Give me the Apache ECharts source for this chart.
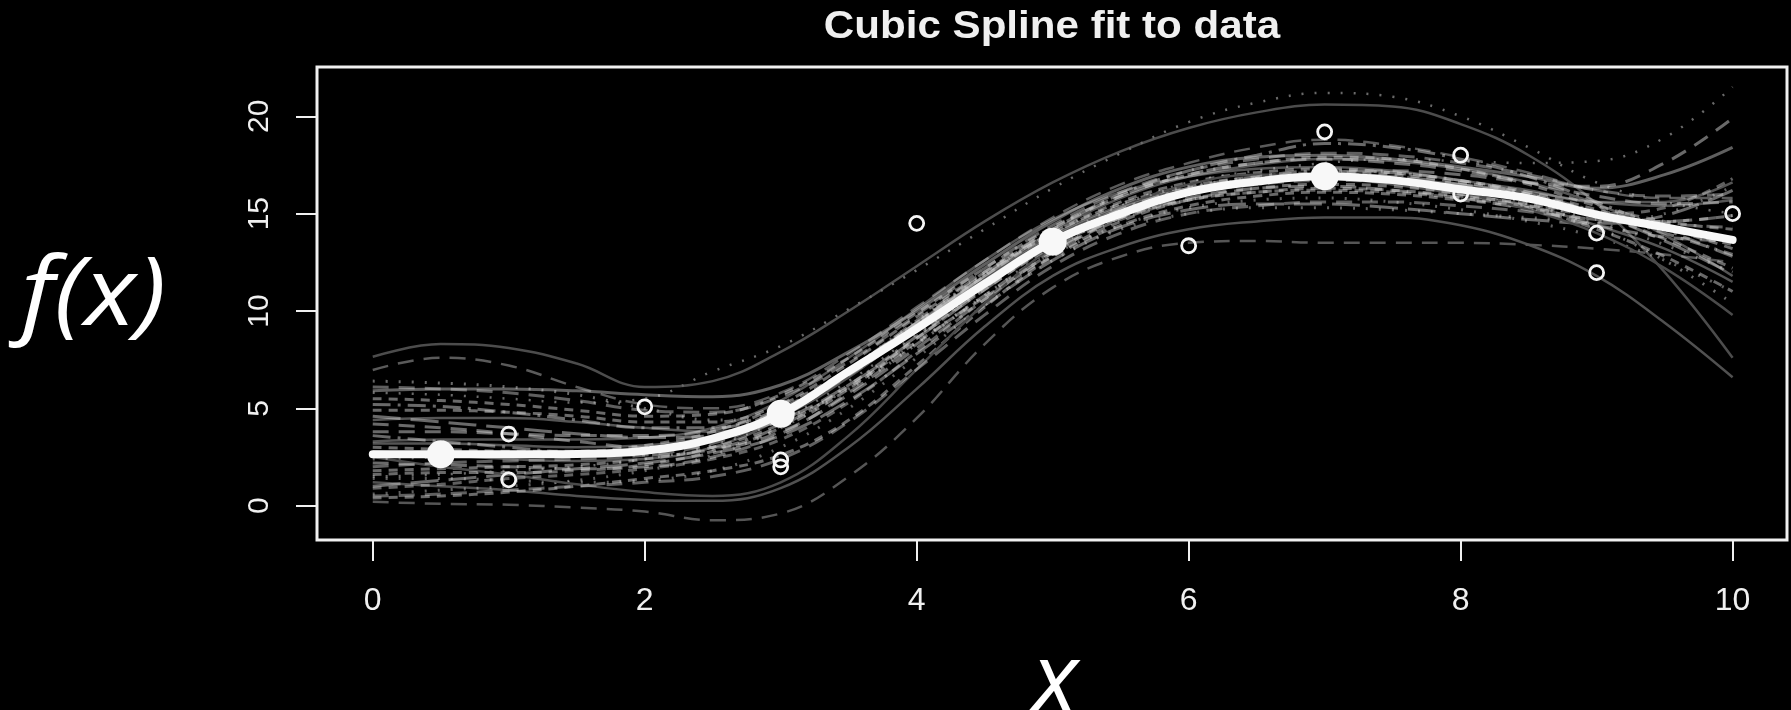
<!DOCTYPE html>
<html>
<head>
<meta charset="utf-8">
<script src="https://cdn.jsdelivr.net/npm/echarts@6/dist/echarts.min.js"></script>
<style>
  html, body { margin: 0; padding: 0; background: #000; }
  #spline { width: 1791px; height: 710px; }
</style>
</head>
<body>
<div id="spline"></div>
<script>
// tick labels
var xTicks = [0, 2, 4, 6, 8, 10];
var yTicks = [0, 5, 10, 15, 20];

// x positions the fitted curves were read at
var gridX = [0, 0.5, 1, 1.5, 2, 2.5, 3, 3.5, 4, 4.5, 5, 5.5, 6, 6.5, 7, 7.5, 8, 8.5, 9, 9.5, 10];

// observed data (open circles)
var obsX = [1, 1, 2, 3, 3, 4, 6, 7, 8, 8, 9, 9, 10];
var obsY = [3.68, 1.33, 5.08, 2.35, 2.0, 14.5, 13.35, 19.2, 18.0, 16.0, 14.0, 11.97, 15.0];

// knots (filled dots) and the fitted spline
var knotX = [0.5, 3, 5, 7];
var knotY = [2.64, 4.72, 13.56, 16.92];
var fitMain = [2.64, 2.64, 2.64, 2.66, 2.82, 3.45, 4.72, 6.9, 9.1, 11.4, 13.56, 15.0, 16.1, 16.65, 16.92, 16.72, 16.25, 15.78, 14.95, 14.3, 13.65];

// resampled fits (grey ensemble)
var bootA = [7.65, 8.3, 8.1, 7.3, 6.1, 6.4, 7.9, 10.0, 12.3, 14.6, 16.6, 18.2, 19.4, 20.2, 20.6, 20.5, 19.6, 18.0, 15.5, 12.0, 7.6];
var bootB = [5.8, 5.7, 5.5, 5.3, 5.5, 6.9, 8.2, 10.1, 12.1, 14.2, 16.3, 18.1, 19.7, 20.7, 21.2, 21.0, 20.0, 18.4, 16.6, 15.6, 15.0];
var bootC = [1.5, 1.6, 1.8, 2.0, 2.4, 3.1, 4.4, 6.4, 8.8, 11.2, 13.6, 15.4, 16.6, 17.2, 17.6, 17.8, 17.7, 17.6, 17.7, 18.9, 21.5];
var bootD = [1.2, 1.0, 0.8, 0.5, 0.3, 0.25, 0.9, 3.0, 6.0, 9.2, 11.8, 13.3, 14.2, 14.6, 14.8, 14.8, 14.4, 13.4, 11.8, 9.4, 6.6];
var bootE = [0.2, 0.1, 0.05, -0.1, -0.3, -0.75, -0.4, 1.5, 4.5, 8.3, 11.2, 12.8, 13.5, 13.6, 13.5, 13.5, 13.5, 13.4, 13.2, 12.9, 12.5];
var bootF = [6.97, 7.6, 7.2, 6.1, 5.2, 5.0, 5.8, 7.8, 10.2, 12.6, 14.8, 16.5, 17.6, 18.4, 18.8, 18.5, 17.9, 17.1, 16.2, 15.8, 15.8];
var bootG = [5.9, 6.0, 6.0, 5.9, 5.7, 5.6, 6.2, 7.9, 10.0, 12.4, 14.6, 16.3, 17.4, 17.9, 18.0, 17.8, 17.4, 16.9, 16.3, 17.0, 18.4];
var bootH = [4.9, 4.9, 4.8, 4.6, 4.3, 4.3, 5.2, 7.0, 9.4, 11.8, 14.0, 15.6, 16.6, 17.1, 17.3, 17.1, 16.7, 16.1, 15.2, 14.3, 13.2];
var bootI = [3.8, 3.8, 3.7, 3.6, 3.6, 3.9, 5.0, 7.0, 9.5, 12.0, 14.2, 15.9, 17.0, 17.6, 17.8, 17.6, 17.2, 16.6, 15.9, 15.5, 15.6];
var bootJ = [1.8, 1.9, 2.0, 2.1, 2.4, 3.0, 4.2, 6.1, 8.4, 10.7, 12.8, 14.4, 15.4, 15.9, 16.1, 16.0, 15.7, 15.3, 14.7, 14.6, 14.9];
var bootK = [0.6, 0.8, 1.0, 1.3, 1.8, 2.6, 4.0, 6.0, 8.4, 10.8, 12.9, 14.4, 15.3, 15.7, 15.8, 15.6, 15.2, 14.6, 13.8, 12.6, 11.0];
var bootL = [2.8, 2.6, 2.4, 2.3, 2.4, 3.0, 4.5, 6.8, 9.3, 11.8, 13.9, 15.4, 16.3, 16.7, 16.8, 16.5, 16.0, 15.4, 14.4, 13.2, 11.5];
var bootM = [4.2, 4.0, 3.7, 3.3, 3.0, 3.0, 3.8, 5.7, 8.1, 10.6, 13.0, 14.8, 16.0, 16.7, 17.1, 17.2, 17.0, 16.6, 16.4, 17.6, 19.9];
var bootN = [1.0, 1.3, 1.6, 1.9, 2.2, 2.7, 3.6, 5.4, 7.8, 10.3, 12.6, 14.3, 15.2, 15.5, 15.5, 15.3, 15.0, 14.7, 14.5, 14.9, 16.2];
var bootO = [6.4, 6.3, 6.1, 5.7, 5.0, 4.4, 4.6, 6.0, 8.3, 10.8, 13.2, 15.0, 16.2, 16.8, 17.0, 16.8, 16.3, 15.5, 14.3, 12.6, 10.4];
var bootP = [0.4, 0.5, 0.7, 1.0, 1.4, 1.8, 2.6, 4.4, 7.2, 10.2, 12.8, 14.6, 15.7, 16.3, 16.5, 16.4, 16.0, 15.3, 14.2, 12.8, 11.0];
var bootQ = [3.3, 3.4, 3.4, 3.4, 3.5, 4.0, 5.4, 7.6, 10.1, 12.6, 14.7, 16.1, 16.9, 17.3, 17.4, 17.2, 16.7, 16.2, 15.6, 15.6, 16.6];
var bootR = [2.2, 2.1, 2.0, 1.9, 2.0, 2.5, 3.7, 5.8, 8.3, 10.8, 13.1, 14.8, 15.8, 16.3, 16.4, 16.2, 15.8, 15.2, 14.4, 13.8, 13.6];
var bootS = [5.2, 5.1, 4.8, 4.4, 4.0, 4.0, 4.9, 6.9, 9.4, 11.9, 14.2, 16.0, 17.2, 18.0, 18.6, 18.4, 17.8, 16.9, 15.6, 14.2, 12.8];
var bootT = [3.0, 2.9, 2.8, 2.8, 3.1, 3.8, 5.2, 7.3, 9.7, 12.0, 14.0, 15.5, 16.4, 16.9, 17.1, 17.0, 16.6, 16.0, 15.0, 13.7, 12.2];
var bootU = [1.4, 1.4, 1.3, 1.2, 1.3, 1.8, 3.0, 5.0, 7.6, 10.3, 12.6, 14.2, 15.0, 15.3, 15.3, 15.2, 15.0, 14.8, 14.6, 15.0, 16.4];
var bootV = [4.4, 4.5, 4.5, 4.3, 4.0, 3.8, 4.6, 6.6, 9.2, 11.8, 14.1, 15.8, 16.9, 17.5, 17.8, 17.7, 17.3, 16.6, 15.5, 13.9, 11.8];
var bootW = [2.5, 2.0, 1.6, 1.1, 0.7, 0.5, 1.2, 3.6, 7.0, 10.4, 13.3, 15.3, 16.5, 17.0, 17.0, 16.7, 16.1, 15.2, 14.0, 12.2, 9.8];
var bootX = [5.5, 5.4, 5.2, 4.9, 4.6, 4.7, 5.7, 7.6, 9.9, 12.2, 14.3, 15.9, 17.0, 17.6, 17.9, 17.8, 17.3, 16.5, 15.4, 14.6, 14.2];
var bootY = [2.0, 2.2, 2.3, 2.4, 2.6, 3.2, 4.6, 6.7, 9.0, 11.3, 13.4, 15.0, 16.0, 16.5, 16.7, 16.6, 16.2, 15.7, 15.0, 14.5, 14.3];
var bootZ = [3.6, 3.3, 3.0, 2.7, 2.6, 2.9, 4.1, 6.2, 8.7, 11.2, 13.5, 15.2, 16.3, 16.9, 17.2, 17.1, 16.7, 16.0, 15.1, 14.0, 12.9];
var bootAA = [0.9, 1.1, 1.4, 1.6, 1.9, 2.4, 3.4, 5.3, 7.9, 10.6, 13.0, 14.7, 15.7, 16.1, 16.2, 16.1, 15.8, 15.4, 15.0, 15.3, 16.8];
var bootBB = [4.6, 4.3, 4.0, 3.7, 3.5, 3.6, 4.4, 6.2, 8.6, 11.1, 13.4, 15.1, 16.2, 16.8, 17.0, 16.9, 16.5, 15.9, 15.0, 13.6, 11.9];
var bootCC = [2.4, 2.5, 2.6, 2.6, 2.8, 3.4, 4.8, 7.0, 9.5, 11.9, 14.0, 15.5, 16.4, 16.8, 17.0, 16.8, 16.3, 15.6, 14.6, 13.4, 12.0];
var bootDD = [6.1, 6.0, 5.8, 5.4, 4.9, 4.8, 5.6, 7.4, 9.8, 12.2, 14.4, 16.1, 17.2, 17.8, 18.1, 18.0, 17.6, 17.0, 16.2, 15.9, 16.0];
var bootEE = [1.6, 1.7, 1.7, 1.8, 2.1, 2.8, 4.0, 6.0, 8.6, 11.1, 13.3, 14.8, 15.7, 16.1, 16.3, 16.2, 15.9, 15.5, 14.9, 14.2, 13.4];
var bootFF = [3.2, 3.2, 3.1, 3.0, 3.1, 3.6, 4.9, 7.0, 9.4, 11.7, 13.8, 15.3, 16.2, 16.7, 16.9, 16.8, 16.5, 16.1, 15.6, 15.4, 15.7];
var bootGG = [0.5, 0.6, 0.8, 1.0, 1.2, 1.5, 2.4, 4.3, 7.0, 9.8, 12.3, 14.0, 15.0, 15.4, 15.6, 15.6, 15.4, 15.1, 14.7, 14.6, 14.9];

window.onload = function () {
    showChart();
};

function pairs(xs, ys) {
    return xs.map(function (x, i) { return [x, ys[i]]; });
}

function showChart() {
    var myChart = echarts.init(document.getElementById('spline'));

    var DOT = [2, 11];
    var DASH = [16, 10];
    var SDASH = [9, 7];
    var LDASH = [28, 10];
    var DOTDASH = [18, 7, 3, 7];
    var grey = function (a) { return 'rgba(210,210,210,' + a + ')'; };

    // curve + line look
    var ensemble = [
        [bootA, '#4c4c4c', 'solid', 2.5],
        [bootB, '#6a6a6a', DOT, 2.5],
        [bootC, '#6a6a6a', DOT, 2.5],
        [bootD, '#505050', 'solid', 2.5],
        [bootE, '#555555', DASH, 2.5],
        [bootF, '#5a5a5a', DASH, 2.5],
        [bootG, grey(0.45), 'solid', 3],
        [bootH, grey(0.5), SDASH, 3],
        [bootI, grey(0.5), DASH, 3],
        [bootJ, grey(0.5), SDASH, 3],
        [bootK, grey(0.45), DOT, 3],
        [bootL, grey(0.4), 'solid', 2.5],
        [bootM, grey(0.5), DASH, 3],
        [bootN, grey(0.5), LDASH, 3],
        [bootO, grey(0.5), DOT, 3],
        [bootP, grey(0.5), SDASH, 3],
        [bootQ, grey(0.4), 'solid', 2.5],
        [bootR, grey(0.5), DASH, 3],
        [bootS, grey(0.5), DOTDASH, 3],
        [bootT, grey(0.5), SDASH, 3],
        [bootU, grey(0.45), DOT, 3],
        [bootV, grey(0.4), 'solid', 2.5],
        [bootW, '#4a4a4a', 'solid', 2.5],
        [bootX, grey(0.5), SDASH, 3],
        [bootY, grey(0.45), DASH, 3],
        [bootZ, grey(0.5), DOTDASH, 3],
        [bootAA, grey(0.45), SDASH, 3],
        [bootBB, grey(0.5), LDASH, 3],
        [bootCC, grey(0.45), DOT, 3],
        [bootDD, grey(0.45), DASH, 3],
        [bootEE, grey(0.5), SDASH, 3],
        [bootFF, grey(0.4), 'solid', 2.5],
        [bootGG, grey(0.45), DASH, 3]
    ];

    var series = ensemble.map(function (e) {
        return {
            type: 'line',
            data: pairs(gridX, e[0]),
            smooth: 0.4,
            showSymbol: false,
            silent: true,
            z: 1,
            lineStyle: { color: e[1], type: e[2], width: e[3] }
        };
    });

    series.push({
        type: 'scatter',
        data: pairs(obsX, obsY),
        symbol: 'circle',
        symbolSize: 14,
        silent: true,
        z: 3,
        itemStyle: { color: 'rgba(0,0,0,0)', borderColor: '#f5f5f5', borderWidth: 2.8, opacity: 1 }
    });
    series.push({
        type: 'line',
        data: pairs(gridX, fitMain),
        smooth: 0.4,
        showSymbol: false,
        silent: true,
        z: 4,
        lineStyle: { color: '#f8f8f8', width: 8, cap: 'round' }
    });
    series.push({
        type: 'scatter',
        data: pairs(knotX, knotY),
        symbolSize: 28,
        silent: true,
        z: 5,
        itemStyle: { color: '#f8f8f8', opacity: 1 }
    });

    var labelColor = '#f0f0f0';

    var option = {
        backgroundColor: '#000',
        animation: false,
        grid: {
            left: 317,
            right: 4,
            top: 67,
            bottom: 170,
            show: true,
            borderColor: '#f0f0f0',
            borderWidth: 3,
            backgroundColor: 'transparent'
        },
        xAxis: {
            type: 'value',
            min: -0.41,
            max: 10.4,
            axisLine: { show: false, onZero: false },
            splitLine: { show: false },
            axisTick: {
                show: true,
                length: 21,
                customValues: xTicks,
                lineStyle: { color: labelColor, width: 2 }
            },
            axisLabel: {
                customValues: xTicks,
                color: labelColor,
                fontSize: 32,
                fontFamily: 'Liberation Sans',
                margin: 45
            }
        },
        yAxis: {
            type: 'value',
            min: -1.76,
            max: 22.53,
            axisLine: { show: false, onZero: false },
            splitLine: { show: false },
            axisTick: {
                show: true,
                length: 21,
                customValues: yTicks,
                lineStyle: { color: labelColor, width: 2 }
            },
            axisLabel: {
                customValues: yTicks,
                color: labelColor,
                fontSize: 30,
                fontFamily: 'Liberation Sans',
                rotate: 90,
                margin: 42
            }
        },
        graphic: [
            {
                type: 'text',
                x: 1052,
                y: 27,
                scaleX: 1.08,
                style: {
                    text: 'Cubic Spline fit to data',
                    fill: labelColor,
                    font: 'bold 39px "Liberation Sans"',
                    align: 'center',
                    verticalAlign: 'middle'
                }
            },
            {
                type: 'text',
                x: 21,
                y: 298,
                scaleX: 1.11,
                style: {
                    text: 'f(x)',
                    fill: '#ffffff',
                    font: 'italic 96px "Open Sans"',
                    align: 'left',
                    verticalAlign: 'middle'
                }
            },
            {
                type: 'text',
                x: 1055,
                y: 684,
                style: {
                    text: 'x',
                    fill: '#ffffff',
                    font: 'italic 96px "Open Sans"',
                    align: 'center',
                    verticalAlign: 'middle'
                }
            }
        ],
        series: series
    };

    myChart.setOption(option);
}
</script>
</body>
</html>
